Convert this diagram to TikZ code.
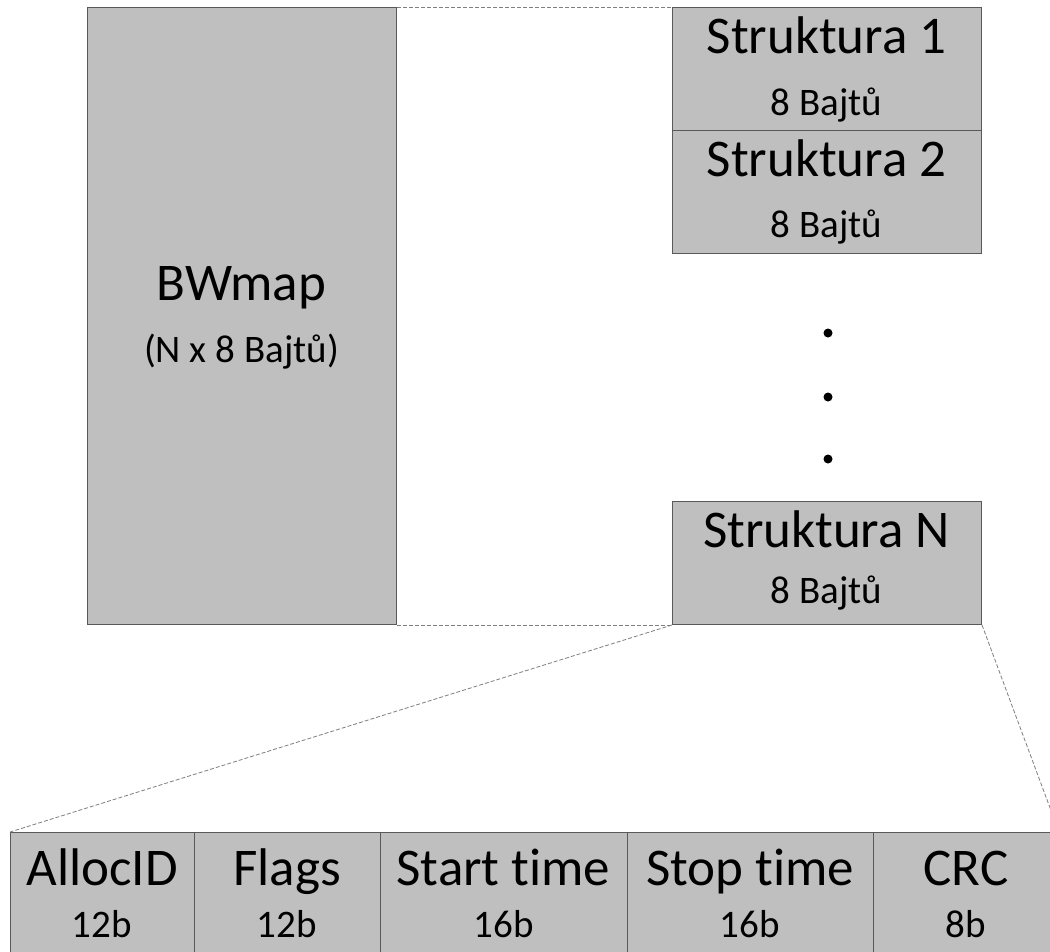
\documentclass[tikz,border=0pt]{standalone}
\usepackage{fontspec}
\setmainfont{Carlito}[Ligatures=CommonOff]
\definecolor{boxfill}{HTML}{BFBFBF}
\definecolor{boxline}{HTML}{595959}
\definecolor{dashline}{HTML}{7F7F7F}
\begin{document}
\begin{tikzpicture}[x=1pt,y=-1pt,
  box/.style={draw=boxline, fill=boxfill, line width=1pt, rectangle, inner sep=0pt, anchor=north west},
  zoomline/.style={draw=dashline, line width=0.8pt, dash pattern=on 4pt off 2pt},
  bigtxt/.style={anchor=base, inner sep=0pt, font=\fontsize{53}{53}\selectfont},
  smalltxt/.style={anchor=base, inner sep=0pt, font=\fontsize{39}{39}\selectfont},
  dotmark/.style={circle, fill=black, inner sep=0pt, minimum size=9pt}
]
\useasboundingbox (0,0) rectangle (1050,951);
\clip (0,0) rectangle (1050,951);
\fill[white] (0,0) rectangle (1050,951);

% BWmap
\node[box, minimum width=309pt, minimum height=617pt] (bw) at (87,7) {};
\node[bigtxt] (bwt) at (241.5,300) {BWmap};
\node[smalltxt] (bws) at (241.5,362) {(N x 8 Bajtů)};

% Struktura boxes
\node[box, minimum width=309pt, minimum height=123pt] (s1) at (672,7) {};
\node[bigtxt] (s1t) at (826.5,53) {Struktura 1};
\node[smalltxt] (s1s) at (826.5,115) {8 Bajtů};

\node[box, minimum width=309pt, minimum height=123pt] (s2) at (672,130) {};
\node[bigtxt] (s2t) at (826.5,176) {Struktura 2};
\node[smalltxt] (s2s) at (826.5,237) {8 Bajtů};

\node[dotmark] (d1) at (828,333) {};
\node[dotmark] (d2) at (828,397) {};
\node[dotmark] (d3) at (828,459) {};

\node[box, minimum width=309pt, minimum height=123pt] (sn) at (672,501) {};
\node[bigtxt] (snt) at (826.5,547) {Struktura N};
\node[smalltxt] (sns) at (826.5,603) {8 Bajtů};

% bottom bar
\node[box, minimum width=184pt, minimum height=140pt] (c1) at (10,832) {};
\node[box, minimum width=186pt, minimum height=140pt] (c2) at (194,832) {};
\node[box, minimum width=247pt, minimum height=140pt] (c3) at (380,832) {};
\node[box, minimum width=246pt, minimum height=140pt] (c4) at (627,832) {};
\node[box, minimum width=185pt, minimum height=140pt] (c5) at (873,832) {};

\node[bigtxt] (c1t) at (102,885) {AllocID};
\node[smalltxt] (c1s) at (102,937) {12b};
\node[bigtxt] (c2t) at (287,885) {Flags};
\node[smalltxt] (c2s) at (287,937) {12b};
\node[bigtxt] (c3t) at (503.5,885) {Start time};
\node[smalltxt] (c3s) at (503.5,937) {16b};
\node[bigtxt] (c4t) at (750,885) {Stop time};
\node[smalltxt] (c4s) at (750,937) {16b};
\node[bigtxt] (c5t) at (966,885) {CRC};
\node[smalltxt] (c5s) at (966,937) {8b};

% zoom lines
\draw[zoomline] (bw.north east) -- (s1.north west);
\draw[zoomline] (bw.south east) -- (sn.south west);
\draw[zoomline] (sn.south west) -- (c1.north west);
\draw[zoomline] (sn.south east) -- (c5.north east);
\end{tikzpicture}
\end{document}
